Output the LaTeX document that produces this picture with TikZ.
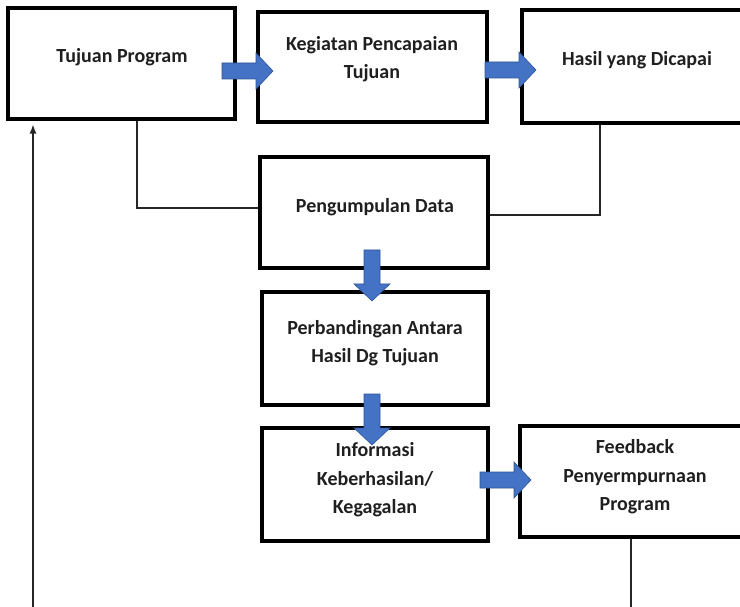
\documentclass[tikz,border=0pt]{standalone}
\usepackage{fontspec}
\setmainfont{Carlito}
\usetikzlibrary{arrows.meta}
\definecolor{arrowblue}{HTML}{4472C4}
\definecolor{arrowedge}{HTML}{2F5597}
\begin{document}
\begin{tikzpicture}[x=1pt,y=-1pt,
  box/.style={draw=black, line width=3.2pt, fill=white, inner sep=0pt},
  lbl/.style={font=\bfseries\fontsize{20}{28.5}\selectfont, text=black!88, align=center, inner sep=0pt},
  conn/.style={draw=black!85, line width=1.4pt},
  flowarrow/.pic={\filldraw[fill=arrowblue, draw=arrowedge, line width=0.6pt]
    (0,-8) -- (34,-8) -- (34,-18) -- (51,0) -- (34,18) -- (34,8) -- (0,8) -- cycle;}
]
\clip (0,0) rectangle (740,607);
\fill[white] (0,0) rectangle (740,607);

% process boxes
\node[box, minimum width=227pt, minimum height=111pt] (tp) at (121.5,63.5) {};
\node[box, minimum width=229pt, minimum height=110pt] (kp) at (372.5,67) {};
\node[box, minimum width=248pt, minimum height=113pt] (hy) at (646,66.5) {};
\node[box, minimum width=228pt, minimum height=111pt] (pd) at (374,212.5) {};
\node[box, minimum width=226pt, minimum height=113pt] (pb) at (375,348.5) {};
\node[box, minimum width=226pt, minimum height=113pt] (ik) at (375,484.5) {};
\node[box, minimum width=250pt, minimum height=111pt] (fb) at (645,481.5) {};

% box captions
\node[lbl] (tpText) at (122,57) {Tujuan Program};
\node[lbl] (kpText) at (372,59) {Kegiatan Pencapaian\\Tujuan};
\node[lbl] (hyText) at (637,60) {Hasil yang Dicapai};
\node[lbl] (pdText) at (375,207) {Pengumpulan Data};
\node[lbl] (pbText) at (375,343) {Perbandingan Antara\\Hasil Dg Tujuan};
\node[lbl] (ikText) at (375,480) {Informasi\\Keberhasilan/\\Kegagalan};
\node[lbl] (fbText) at (635,477) {Feedback\\Penyermpurnaan\\Program};

% thin connectors
\draw[conn] (tp.south -| 137,0) |- (pd.west |- 0,208);
\draw[conn] (hy.south -| 600,0) |- (pd.east |- 0,215);
\coordinate (loopLow) at (631,640);
\draw[conn, -{Latex[length=9pt,width=7pt]}, shorten >=4pt]
  (fb.south -| 631,0) -- (loopLow) -| (tp.south -| 33,0);

% block arrows
\pic at (222,71) {flowarrow};
\pic at (485,70) {flowarrow};
\pic[rotate=-90] at (372,250) {flowarrow};
\pic[rotate=-90] at (372,394) {flowarrow};
\pic at (480,480) {flowarrow};
\end{tikzpicture}
\end{document}
